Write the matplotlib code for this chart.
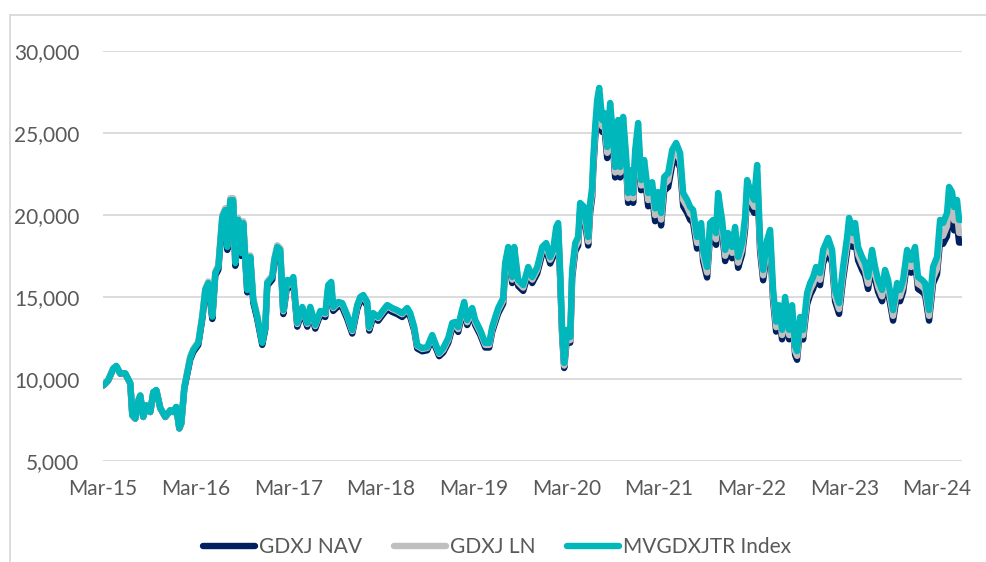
import matplotlib
matplotlib.use("Agg")
import matplotlib.pyplot as plt
from matplotlib.patches import Rectangle

plt.rcParams['font.family'] = ['Lato', 'DejaVu Sans']

# time in decimal years
years = [
    2015.170, 2015.202, 2015.224, 2015.278, 2015.310, 2015.353, 2015.407, 2015.461, 2015.483, 2015.515,
    2015.548, 2015.569, 2015.601, 2015.634, 2015.677, 2015.709, 2015.742, 2015.785, 2015.839, 2015.893,
    2015.925, 2015.957, 2015.990, 2016.011,
    2016.044, 2016.065, 2016.108, 2016.141, 2016.195, 2016.238, 2016.270, 2016.303, 2016.346, 2016.378,
    2016.411, 2016.454, 2016.486, 2016.508, 2016.540, 2016.572, 2016.594, 2016.626, 2016.659, 2016.680,
    2016.723, 2016.756, 2016.788, 2016.831, 2016.885, 2016.918, 2016.939, 2016.993, 2017.015, 2017.047,
    2017.079,
    2017.112, 2017.155, 2017.187, 2017.220, 2017.263, 2017.317, 2017.371, 2017.403, 2017.457, 2017.511,
    2017.565, 2017.597, 2017.629, 2017.651, 2017.705, 2017.748, 2017.802, 2017.856, 2017.910, 2017.942,
    2017.975, 2018.018, 2018.039, 2018.082, 2018.136, 2018.190, 2018.234, 2018.287, 2018.341, 2018.395,
    2018.449, 2018.482, 2018.525, 2018.557, 2018.611, 2018.665, 2018.719, 2018.751, 2018.794,
    2018.838, 2018.892, 2018.935, 2018.967, 2018.999, 2019.032, 2019.064, 2019.096, 2019.150, 2019.183,
    2019.237, 2019.291, 2019.334, 2019.366, 2019.399, 2019.431, 2019.485, 2019.506, 2019.539, 2019.582,
    2019.604, 2019.647, 2019.701, 2019.755, 2019.798, 2019.852, 2019.906, 2019.949, 2019.992, 2020.024,
    2020.057, 2020.078,
    2020.100, 2020.121, 2020.143, 2020.175, 2020.208, 2020.229, 2020.262, 2020.294, 2020.315, 2020.359,
    2020.402, 2020.423, 2020.445, 2020.456, 2020.477, 2020.499, 2020.521, 2020.553, 2020.574, 2020.607,
    2020.639, 2020.671, 2020.693, 2020.725, 2020.747, 2020.779, 2020.812, 2020.833, 2020.866, 2020.887,
    2020.909, 2020.941, 2020.973, 2021.006,
    2021.049, 2021.092, 2021.124, 2021.157, 2021.189, 2021.222, 2021.265, 2021.308, 2021.351, 2021.394,
    2021.427, 2021.470, 2021.502, 2021.534, 2021.577, 2021.621, 2021.642, 2021.685, 2021.717, 2021.750,
    2021.782, 2021.804, 2021.847, 2021.880, 2021.912, 2021.955, 2021.987, 2022.020, 2022.063, 2022.095,
    2022.117, 2022.160, 2022.192, 2022.225, 2022.257, 2022.290, 2022.333, 2022.365,
    2022.397, 2022.430, 2022.462, 2022.494, 2022.527, 2022.570, 2022.602, 2022.635, 2022.656, 2022.689,
    2022.721, 2022.764, 2022.797, 2022.829, 2022.861, 2022.904, 2022.937, 2022.991, 2023.034, 2023.066,
    2023.109, 2023.152, 2023.196, 2023.217, 2023.260, 2023.282, 2023.314, 2023.357, 2023.390, 2023.422,
    2023.465, 2023.498, 2023.530, 2023.573, 2023.605, 2023.638, 2023.692, 2023.735, 2023.767, 2023.800,
    2023.843, 2023.886, 2023.929, 2023.961, 2024.005, 2024.037, 2024.080,
    2024.123, 2024.166, 2024.199, 2024.231, 2024.274, 2024.296, 2024.328, 2024.350, 2024.382, 2024.404,
    2024.436,
]

gdxj_nav = [
    9600, 9770, 9920, 10620, 10770, 10320, 10320, 9720, 7780, 7580,
    8670, 8970, 7680, 8370, 7980, 9170, 9300, 8210, 7680, 8080,
    7980, 8280, 6980, 7280,
    9410, 10000, 11190, 11650, 12080, 13660, 15280, 15690, 13660, 16300,
    16660, 19680, 20100, 17870, 20690, 20690, 16900, 19500, 17500, 19310,
    15280, 17270, 14670, 13660, 12080, 13040, 15690, 16060, 17090, 17870,
    17690,
    13960, 15770, 15580, 15940, 13190, 14150, 13190, 14160, 13070, 13910,
    13780, 15460, 15650, 14150, 14450, 14380, 13660, 12770, 14260, 14750,
    14860, 14450, 12950, 13780, 13550, 13960, 14260, 14090, 13960, 13780,
    14090, 13780, 12950, 11860, 11690, 11750, 12460, 11990, 11390,
    11620, 12210, 13110, 13170, 12870, 13700, 14360, 13290, 14000, 13290,
    12690, 11920, 11920, 12870, 13460, 14000, 14600, 16680, 17630, 15850,
    17630, 15670, 15370, 16440, 15850, 16440, 17630, 17870, 17040, 17460,
    18830, 19060,
    16040, 12640, 10670, 12640, 12210, 16180, 17780, 18140, 20150, 19920,
    18140, 20150, 21100, 22700, 24660, 26250, 26970, 25070, 25490, 23470,
    26080, 24070, 22290, 25070, 22290, 25250, 22880, 20740, 22100, 20740,
    23290, 24890, 21510, 22700,
    20530, 21160, 19620, 20590, 19360, 21470, 21700, 23050, 23460, 22880,
    20530, 20130, 19710, 19540, 17950, 18770, 17190, 16190, 18770, 18950,
    18180, 20530, 18950, 17190, 18180, 17360, 18540, 16780, 17600, 19120,
    21290, 20530, 20130, 22170, 17780, 16020, 17780, 18360,
    14800, 12890, 13850, 12420, 14330, 12420, 13850, 11460, 11170, 13160,
    12410, 14550, 15140, 15490, 16070, 15720, 17070, 17760, 17070, 14740,
    13970, 16070, 17820, 18930, 18050, 18630, 17240, 16660, 16300, 15490,
    17070, 16070, 15320, 14740, 15900, 15320, 13560, 15140, 14740, 15320,
    17070, 16480, 17240, 15490, 15320, 15140, 13560,
    15820, 16390, 18420, 18240, 18710, 20190, 19900, 19060, 19460, 18320,
    18320,
]

gdxj_ln = [
    9620, 9790, 9940, 10640, 10790, 10340, 10340, 9740, 7790, 7590,
    8690, 8990, 7690, 8390, 7990, 9190, 9320, 8220, 7690, 8090,
    7990, 8290, 6990, 7290,
    9560, 10160, 11370, 11840, 12270, 13880, 15520, 15950, 13880, 16560,
    16930, 20000, 20420, 18160, 21030, 21030, 17170, 19820, 17790, 19620,
    15520, 17540, 14910, 13880, 12270, 13250, 15950, 16320, 17360, 18160,
    17980,
    14130, 15960, 15770, 16140, 13350, 14320, 13350, 14330, 13230, 14080,
    13950, 15650, 15840, 14320, 14630, 14560, 13830, 12920, 14440, 14930,
    15040, 14630, 13100, 13950, 13710, 14130, 14440, 14260, 14130, 13950,
    14260, 13950, 13100, 12010, 11830, 11890, 12620, 12140, 11530,
    11770, 12380, 13290, 13350, 13040, 13880, 14550, 13460, 14190, 13460,
    12860, 12080, 12080, 13040, 13640, 14190, 14790, 16900, 17870, 16060,
    17870, 15880, 15570, 16660, 16060, 16660, 17870, 18110, 17270, 17690,
    19080, 19310,
    16250, 12810, 10820, 12810, 12370, 16400, 18020, 18380, 20420, 20180,
    18380, 20420, 21380, 23000, 24990, 26600, 27330, 25400, 25830, 23790,
    26430, 24390, 22590, 25400, 22590, 25590, 23190, 21020, 22400, 21020,
    23600, 25230, 21800, 23000,
    20910, 21560, 19990, 20970, 19720, 21870, 22110, 23480, 23900, 23300,
    20910, 20500, 20080, 19900, 18290, 19120, 17510, 16490, 19120, 19310,
    18520, 20910, 19310, 17510, 18520, 17690, 18880, 17090, 17920, 19480,
    21690, 20910, 20500, 22590, 18110, 16320, 18110, 18710,
    15110, 13160, 14140, 12680, 14630, 12680, 14140, 11700, 11410, 13440,
    12670, 14860, 15450, 15810, 16410, 16050, 17420, 18140, 17420, 15040,
    14260, 16410, 18190, 19320, 18430, 19020, 17600, 17000, 16640, 15810,
    17420, 16410, 15640, 15040, 16230, 15640, 13850, 15450, 15040, 15640,
    17420, 16830, 17600, 15810, 15640, 15450, 13850,
    16160, 16740, 18910, 18730, 19320, 20840, 20540, 19670, 20080, 18910,
    18910,
]

mvgdxjtr = [
    9630, 9800, 9950, 10650, 10800, 10350, 10350, 9750, 7800, 7600,
    8700, 9000, 7700, 8400, 8000, 9200, 9330, 8230, 7700, 8100,
    8000, 8300, 7000, 7300,
    9500, 10100, 11300, 11770, 12200, 13800, 15430, 15850, 13800, 16460,
    16830, 19880, 20300, 18050, 20900, 20900, 17070, 19700, 17680, 19500,
    15430, 17440, 14820, 13800, 12200, 13170, 15850, 16220, 17260, 18050,
    17870,
    14200, 16040, 15850, 16220, 13420, 14390, 13420, 14400, 13300, 14150,
    14020, 15730, 15920, 14390, 14700, 14630, 13900, 12990, 14510, 15000,
    15120, 14700, 13170, 14020, 13780, 14200, 14510, 14330, 14200, 14020,
    14330, 14020, 13170, 12070, 11890, 11950, 12680, 12200, 11590,
    11890, 12500, 13420, 13480, 13170, 14020, 14700, 13600, 14330, 13600,
    12990, 12200, 12200, 13170, 13780, 14330, 14940, 17070, 18050, 16220,
    18050, 16040, 15730, 16830, 16220, 16830, 18050, 18290, 17440, 17870,
    19270, 19510,
    16500, 13000, 10980, 13000, 12560, 16650, 18290, 18660, 20730, 20490,
    18660, 20730, 21710, 23350, 25370, 27010, 27750, 25790, 26220, 24150,
    26830, 24760, 22930, 25790, 22930, 25980, 23540, 21340, 22740, 21340,
    23960, 25610, 22130, 23350,
    21340, 22000, 20400, 21400, 20120, 22320, 22560, 23960, 24390, 23780,
    21340, 20920, 20490, 20310, 18660, 19510, 17870, 16830, 19510, 19700,
    18900, 21340, 19700, 17870, 18900, 18050, 19270, 17440, 18290, 19880,
    22130, 21340, 20920, 23050, 18480, 16650, 18480, 19090,
    15500, 13500, 14500, 13000, 15000, 13000, 14500, 12000, 11700, 13780,
    12990, 15240, 15850, 16220, 16830, 16460, 17870, 18600, 17870, 15430,
    14630, 16830, 18660, 19820, 18900, 19510, 18050, 17440, 17070, 16220,
    17870, 16830, 16040, 15430, 16650, 16040, 14200, 15850, 15430, 16040,
    17870, 17260, 18050, 16220, 16040, 15850, 14200,
    16830, 17440, 19700, 19510, 20120, 21710, 21400, 20490, 20920, 19700,
    19700,
]

tick_years = [2015.167 + k for k in range(10)]
tick_labels = ['Mar-15', 'Mar-16', 'Mar-17', 'Mar-18', 'Mar-19',
               'Mar-20', 'Mar-21', 'Mar-22', 'Mar-23', 'Mar-24']
y_ticks = [5000, 10000, 15000, 20000, 25000, 30000]

text_col = '#595959'
grid_col = '#D9D9D9'

fig = plt.figure(figsize=(9.86, 5.62), dpi=100)
ax = fig.add_axes([0.1045, 0.1797, 0.8712, 0.7296])

lw = 4.6
ax.plot(years, gdxj_nav, color='#002060', lw=lw, solid_joinstyle='round',
        solid_capstyle='round', label='GDXJ NAV', zorder=3)
ax.plot(years, gdxj_ln, color='#BFBFBF', lw=lw, solid_joinstyle='round',
        solid_capstyle='round', label='GDXJ LN', zorder=4)
ax.plot(years, mvgdxjtr, color='#00B7BC', lw=lw, solid_joinstyle='round',
        solid_capstyle='round', label='MVGDXJTR Index', zorder=5)

ax.set_xlim(2015.170, 2024.436)
ax.set_ylim(5000, 30000)
ax.set_yticks(y_ticks)
ax.set_yticklabels([f'{v:,}' for v in y_ticks])
ax.set_xticks(tick_years)
ax.set_xticklabels(tick_labels)
ax.tick_params(axis='both', length=0, labelsize=15, colors=text_col)
ax.tick_params(axis='y', pad=17)
ax.tick_params(axis='x', pad=13)

ax.grid(axis='y', color=grid_col, lw=1.3, zorder=0)
ax.set_axisbelow(True)
for s in ax.spines.values():
    s.set_visible(False)

# thin frame round the chart area
fig.patches.append(Rectangle((10 / 986, -0.2), 1.2, 0.2 + (1 - 15 / 562),
                             transform=fig.transFigure, fill=False,
                             edgecolor=grid_col, lw=1.3))

fig.legend(loc='center', bbox_to_anchor=(0.504, 0.027), ncol=3, frameon=False,
           fontsize=15, labelcolor=text_col, handlelength=2.5,
           handletextpad=0.2, columnspacing=1.5)

fig.savefig('out.png', dpi=100)
